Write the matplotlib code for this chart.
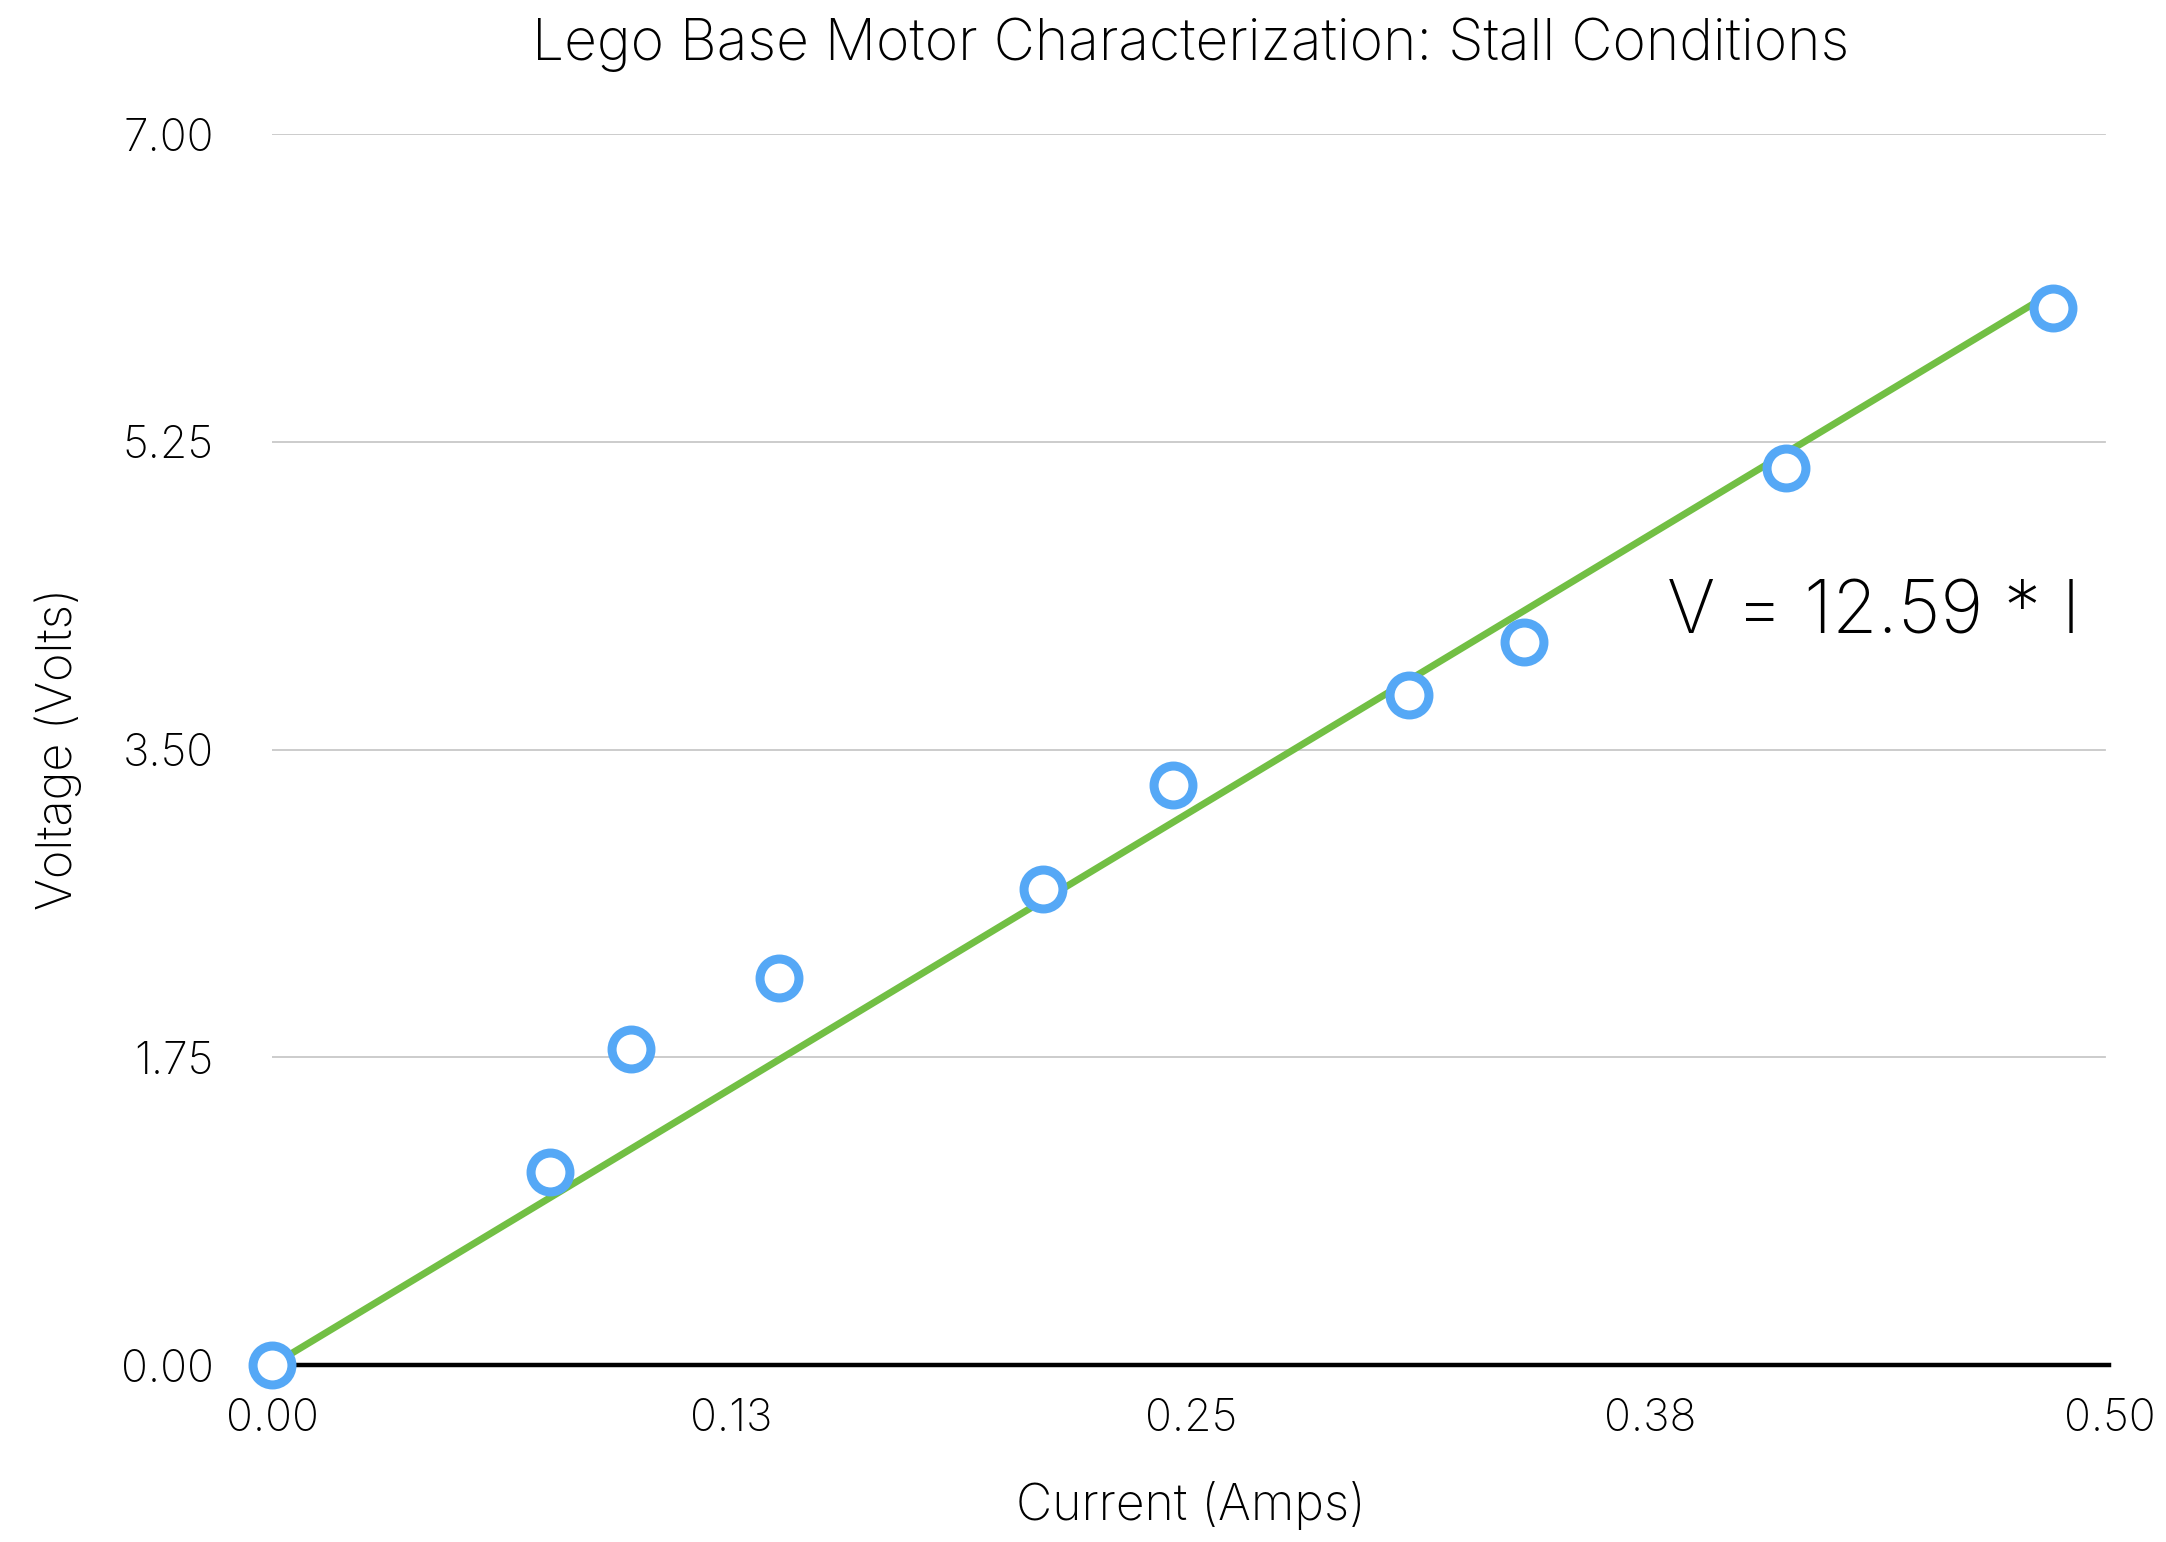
import matplotlib
matplotlib.use("Agg")
import matplotlib.pyplot as plt
import numpy as np

# Data
current = [0.0, 0.0756, 0.0977, 0.138, 0.2098, 0.2451, 0.3094, 0.3406, 0.412, 0.4846]
voltage = [0.0, 1.10, 1.80, 2.20, 2.71, 3.30, 3.81, 4.11, 5.10, 6.01]
slope = 12.59
x_ticks = [0.0, 0.125, 0.25, 0.375, 0.5]
x_tick_labels = ["0.00", "0.13", "0.25", "0.38", "0.50"]
y_ticks = [0.0, 1.75, 3.5, 5.25, 7.0]
y_tick_labels = ["0.00", "1.75", "3.50", "5.25", "7.00"]

plt.rcParams['font.family'] = ['Inter', 'DejaVu Sans']
FW = 'light'
W, H = 1568.0, 1116.0
fig = plt.figure(figsize=(21.66, 15.42), dpi=100)
ax = fig.add_axes([197 / W, 1 - 988 / H, (1527 - 197) / W, (988 - 97) / H])

ax.set_xlim(0, 0.5)
ax.set_ylim(0, 7)

# gridlines
for yt in y_ticks[1:]:
    ax.axhline(yt, color='#C8C8C8', lw=1.3, xmin=0, xmax=(1524 - 197) / (1527 - 197), zorder=1)

xs = np.array([0.0, max(current)])
ax.plot(xs, slope * xs, color='#72BF44', lw=5, zorder=3, solid_capstyle='butt')
ax.plot(current, voltage, linestyle='none', marker='o', markersize=28,
        markerfacecolor='white', markeredgecolor='#55A8F6', markeredgewidth=6.5,
        zorder=5, clip_on=False)

for s in ['left', 'right', 'top']:
    ax.spines[s].set_visible(False)
ax.spines['bottom'].set_linewidth(3.2)
ax.spines['bottom'].set_color('black')
ax.spines['bottom'].set_zorder(4)

ax.set_xticks(x_ticks)
ax.set_xticklabels(x_tick_labels)
ax.set_yticks(y_ticks)
ax.set_yticklabels(y_tick_labels)
ax.tick_params(axis='both', length=0, labelsize=32, labelcolor='black')
ax.tick_params(axis='x', pad=24)
ax.tick_params(axis='y', pad=42)
for lab in ax.get_xticklabels() + ax.get_yticklabels():
    lab.set_fontweight(FW)

ax.text(0.3797, 4.16, "V = 12.59 * I", fontsize=53, fontweight=FW,
        ha='left', va='baseline', color='black')

fig.text(862 / W, 1 - 45 / 1542, "Lego Base Motor Characterization: Stall Conditions",
         fontsize=41, fontweight=FW, ha='center', va='center', color='black')
fig.text(862 / W, 1 - 1505 / 1542, "Current (Amps)", fontsize=36, fontweight=FW,
         ha='center', va='center', color='black')
fig.text(42 / W, 1 - 542 / H, "Voltage (Volts)", fontsize=35, fontweight=FW,
         ha='center', va='center', rotation=90, color='black')

fig.savefig("out.png", dpi=100, facecolor='white')
